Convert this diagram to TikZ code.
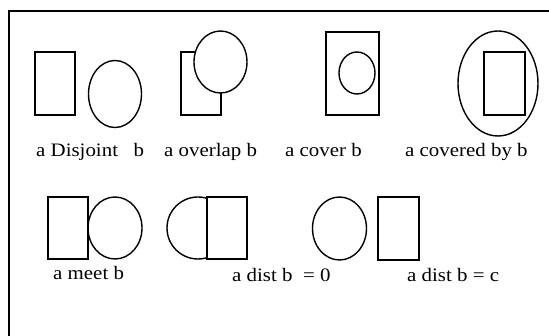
\documentclass[tikz,border=0pt]{standalone}
\usepackage{fontspec}
\setmainfont{Liberation Serif}
\usepackage{graphicx}
\newcommand{\wide}[1]{\scalebox{1.1}[1]{#1}}
\tikzset{
  shp/.style={line width=1.4pt},
  lbl/.style={anchor=base west,inner sep=0pt,font=\fontsize{19}{22}\selectfont}
}
\begin{document}
\begin{tikzpicture}[x=1pt,y=1pt,yscale=-1,xscale=1]
\useasboundingbox (0,0) rectangle (549,336);

%Straight Lines: frame
\draw [line width=2pt]  (9,336) -- (9,11) -- (549,11) ;

%Shape: Rectangle a, disjoint
\draw [shp]  (35,52) rectangle (75,115) ;
%Shape: Ellipse b, disjoint
\draw [shp]  (115,94) ellipse [x radius=26.5, y radius=33.5] ;
%Shape: Rectangle a, overlap
\draw [shp]  (181,52) rectangle (221,115) ;
%Shape: Ellipse b, overlap
\draw [shp,fill=white]  (220.5,62) ellipse [x radius=26.5, y radius=31] ;
%Shape: Rectangle a, cover
\draw [shp]  (326,32) rectangle (379,115) ;
%Shape: Ellipse b, cover
\draw [shp]  (357,73) ellipse [x radius=18, y radius=21] ;
%Shape: Ellipse a, covered by
\draw [shp]  (498,83.5) ellipse [x radius=40, y radius=52.5] ;
%Shape: Rectangle b, covered by
\draw [shp]  (484,52) rectangle (525,115) ;

%Shape: Rectangle a, meet
\draw [shp]  (48,197) rectangle (88,259) ;
%Shape: Ellipse b, meet
\draw [shp]  (115,228) ellipse [x radius=27, y radius=31] ;
%Shape: Ellipse, dist 0
\draw [shp]  (198,228) ellipse [x radius=31, y radius=31] ;
%Shape: Rectangle, dist 0
\draw [shp,fill=white]  (207,197) rectangle (247,259) ;
%Shape: Ellipse, dist c
\draw [shp]  (339.5,228.5) ellipse [x radius=27, y radius=31.5] ;
%Shape: Rectangle, dist c
\draw [shp]  (378,197) rectangle (419,260) ;

% Text Node
\node [lbl] (tdisj) at (36,157) {\wide{a Disjoint\ \ \ b}};
% Text Node
\node [lbl] (tover) at (164,157) {\wide{a overlap b}};
% Text Node
\node [lbl] (tcov) at (285,157) {\wide{a cover b}};
% Text Node
\node [lbl] (tcovby) at (405,157) {\wide{a covered by b}};
% Text Node
\node [lbl] (tmeet) at (53,280) {\wide{a meet b}};
% Text Node
\node [lbl] (tdzero) at (232,282) {\wide{a dist b\ \ = 0}};
% Text Node
\node [lbl] (tdc) at (407,282) {\wide{a dist b = c}};

\end{tikzpicture}
\end{document}
